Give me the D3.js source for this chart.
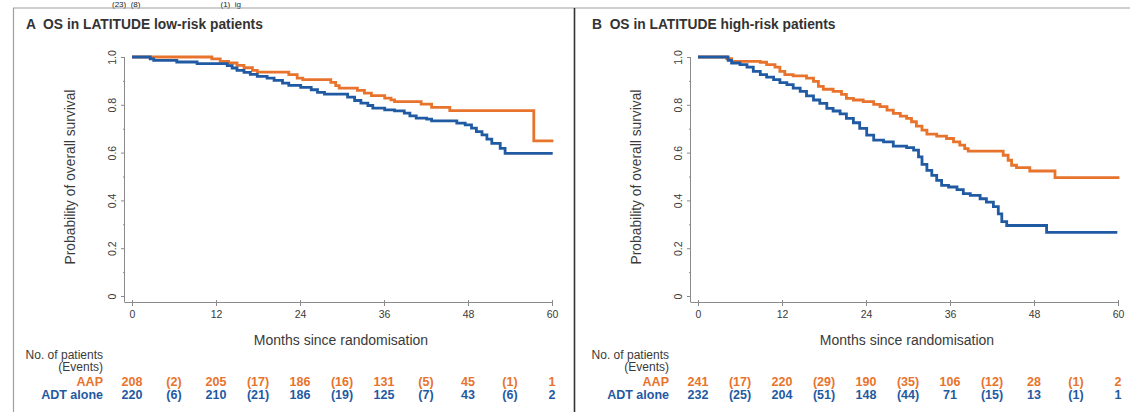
<!DOCTYPE html>
<html>
<head>
<meta charset="utf-8">
<script src="https://cdn.jsdelivr.net/npm/d3@7/dist/d3.min.js"></script>
<style>
  html, body { margin: 0; padding: 0; background: #fff; }
  svg { display: block; font-family: "Liberation Sans", Arial, sans-serif; }
</style>
</head>
<body>
<svg id="chart" width="1130" height="412"></svg>
<script>
// Axis ticks
const monthTicks = [0, 12, 24, 36, 48, 60];
const survivalTicks = [0, 0.2, 0.4, 0.6, 0.8, 1.0];
const survivalMinorTicks = [0.1, 0.3, 0.5, 0.7, 0.9];
const riskMonths = [0, 12, 24, 36, 48, 60];
const eventMonths = [6, 18, 30, 42, 54];

// Kaplan-Meier step points [month, survival] — low-risk patients
const lowRiskAAP = [
  [0, 1.0], [11.4, 0.992], [12.6, 0.982], [13.8, 0.975], [15.0, 0.965], [16.0, 0.955],
  [17.2, 0.944], [17.9, 0.937], [22.4, 0.926], [23.6, 0.912], [24.4, 0.905], [28.4, 0.894],
  [29.1, 0.88], [29.6, 0.87], [32.2, 0.86], [33.2, 0.849], [34.2, 0.838], [36.1, 0.828],
  [37.0, 0.821], [37.5, 0.813], [41.3, 0.803], [42.8, 0.789], [45.4, 0.776], [57.4, 0.649],
  [60.2, 0.649]
];
const lowRiskADT = [
  [0, 1.0], [2.6, 0.992], [3.1, 0.986], [6.4, 0.979], [9.3, 0.972], [13.6, 0.964],
  [14.3, 0.954], [15.0, 0.944], [16.0, 0.936], [16.9, 0.927], [17.9, 0.919], [19.3, 0.912],
  [20.3, 0.902], [21.5, 0.891], [22.4, 0.881], [24.1, 0.873], [25.6, 0.863], [26.5, 0.852],
  [27.5, 0.845], [30.8, 0.832], [31.8, 0.818], [32.7, 0.807], [33.7, 0.797], [34.4, 0.786],
  [36.1, 0.779], [37.5, 0.775], [38.9, 0.765], [39.7, 0.754], [40.6, 0.744], [42.1, 0.74],
  [42.8, 0.733], [46.4, 0.723], [47.6, 0.716], [48.5, 0.702], [49.2, 0.688], [50.0, 0.674],
  [50.7, 0.656], [51.4, 0.639], [52.6, 0.618], [53.3, 0.597], [60.1, 0.597]
];

// Kaplan-Meier step points [month, survival] — high-risk patients
const highRiskAAP = [
  [0, 1.0], [4.1, 0.993], [4.8, 0.982], [8.9, 0.978], [9.8, 0.968], [11.0, 0.958],
  [11.7, 0.94], [12.4, 0.926], [13.6, 0.921], [15.5, 0.912], [16.5, 0.898], [17.2, 0.877],
  [17.9, 0.865], [19.3, 0.856], [20.5, 0.844], [21.2, 0.827], [22.2, 0.82], [23.6, 0.813],
  [25.1, 0.802], [26.0, 0.792], [27.0, 0.778], [27.9, 0.764], [28.9, 0.753], [29.8, 0.743],
  [30.5, 0.729], [31.2, 0.711], [32.0, 0.694], [32.7, 0.677], [34.1, 0.669], [35.5, 0.659],
  [36.5, 0.645], [37.4, 0.631], [38.1, 0.617], [38.6, 0.606], [43.6, 0.589], [44.3, 0.568],
  [44.8, 0.547], [45.5, 0.537], [47.4, 0.523], [51.0, 0.495], [60.2, 0.495]
];
const highRiskADT = [
  [0, 1.0], [4.3, 0.986], [4.8, 0.975], [6.0, 0.968], [7.0, 0.958], [7.9, 0.94],
  [8.9, 0.926], [9.8, 0.916], [10.8, 0.905], [11.7, 0.893], [12.7, 0.884], [13.6, 0.87],
  [14.6, 0.856], [15.5, 0.837], [16.5, 0.82], [17.4, 0.806], [18.4, 0.785], [19.3, 0.774],
  [20.3, 0.762], [21.2, 0.743], [22.2, 0.725], [23.1, 0.701], [24.1, 0.673], [25.1, 0.652],
  [26.5, 0.645], [27.9, 0.627], [29.8, 0.621], [30.8, 0.61], [31.5, 0.582], [32.0, 0.551],
  [32.7, 0.526], [33.4, 0.505], [34.1, 0.484], [34.8, 0.463], [35.8, 0.456], [37.0, 0.445],
  [37.9, 0.428], [38.9, 0.421], [40.3, 0.407], [41.2, 0.393], [42.2, 0.374], [42.9, 0.344],
  [43.4, 0.311], [44.1, 0.295], [49.8, 0.266], [59.9, 0.266]
];

// Numbers at risk and events per interval
const lowRiskAtRiskAAP = [208, 205, 186, 131, 45, 1];
const lowRiskEventsAAP = [2, 17, 16, 5, 1];
const lowRiskAtRiskADT = [220, 210, 186, 125, 43, 2];
const lowRiskEventsADT = [6, 21, 19, 7, 6];
const highRiskAtRiskAAP = [241, 220, 190, 106, 28, 2];
const highRiskEventsAAP = [17, 29, 35, 12, 1];
const highRiskAtRiskADT = [232, 204, 148, 71, 13, 1];
const highRiskEventsADT = [25, 51, 44, 15, 1];

const panelTitles = ["A  OS in LATITUDE low-risk patients", "B  OS in LATITUDE high-risk patients"];
const groupNames = ["AAP", "ADT alone"];

const ORANGE = "#e8732c";
const BLUE = "#1f5aa2";
const AXIS = "#8a8a8a";
const TEXT = "#3a3a3a";

const svg = d3.select("#chart");

// Trailing line of the preceding caption text
svg.append("text")
  .attr("x", 112).attr("y", 6.5)
  .attr("font-size", 8).attr("fill", "#222")
  .attr("xml:space", "preserve")
  .text("(23)  (8)                                    (1)  ig");

// Frame lines
svg.append("line").attr("x1", 13).attr("x2", 1130).attr("y1", 8).attr("y2", 8)
  .attr("stroke", "#a0a0a0").attr("stroke-width", 1.2);
svg.append("line").attr("x1", 13.5).attr("x2", 13.5).attr("y1", 8).attr("y2", 412)
  .attr("stroke", "#a0a0a0").attr("stroke-width", 1.2);
svg.append("line").attr("x1", 574.5).attr("x2", 574.5).attr("y1", 8).attr("y2", 412)
  .attr("stroke", "#333").attr("stroke-width", 1.6);

const panels = [
  { dx: 0, title: panelTitles[0], aap: lowRiskAAP, adt: lowRiskADT,
    riskAAP: lowRiskAtRiskAAP, evAAP: lowRiskEventsAAP, riskADT: lowRiskAtRiskADT, evADT: lowRiskEventsADT },
  { dx: 566, title: panelTitles[1], aap: highRiskAAP, adt: highRiskADT,
    riskAAP: highRiskAtRiskAAP, evAAP: highRiskEventsAAP, riskADT: highRiskAtRiskADT, evADT: highRiskEventsADT }
];

panels.forEach(p => {
  const g = svg.append("g").attr("transform", `translate(${p.dx},0)`);

  const x = d3.scaleLinear().domain([0, 60]).range([132, 552]);
  const y = d3.scaleLinear().domain([0, 1]).range([296, 57]);
  const yAxisX = 125;
  const xAxisY = 302;

  // Panel title
  g.append("text")
    .attr("x", 26).attr("y", 29)
    .attr("font-size", 13.8).attr("font-weight", "bold").attr("fill", "#333")
    .attr("xml:space", "preserve")
    .text(p.title);

  // Y axis: the spine runs down to meet the month axis
  const yAxis = g.append("g").attr("transform", `translate(${yAxisX},0)`)
    .call(d3.axisLeft(y).tickValues(survivalTicks).tickSize(4).tickFormat(d => d === 0 ? "0" : d3.format(".1f")(d)));
  yAxis.select(".domain").attr("stroke", AXIS).attr("d", `M-0.5,${xAxisY}V${y(1)}`);
  yAxis.selectAll(".tick line").attr("stroke", AXIS);
  yAxis.selectAll(".tick text")
    .attr("fill", TEXT).attr("font-size", 10.5).attr("font-family", "Liberation Sans, Arial, sans-serif")
    .attr("transform", "rotate(-90)")
    .attr("text-anchor", "middle")
    .attr("x", 0).attr("y", -9).attr("dy", 0);
  const yMinor = g.append("g").attr("transform", `translate(${yAxisX},0)`)
    .call(d3.axisLeft(y).tickValues(survivalMinorTicks).tickSize(2).tickFormat(""));
  yMinor.select(".domain").remove();
  yMinor.selectAll(".tick line").attr("stroke", AXIS);

  g.append("text")
    .attr("transform", `translate(75,177) rotate(-90)`)
    .attr("text-anchor", "middle")
    .attr("font-size", 13.8).attr("fill", TEXT)
    .text("Probability of overall survival");

  // X axis
  const xAxis = g.append("g").attr("transform", `translate(0,${xAxisY})`)
    .call(d3.axisBottom(x).tickValues(monthTicks).tickSize(4).tickSizeOuter(0));
  xAxis.select(".domain").attr("stroke", AXIS).attr("d", `M${yAxisX - 0.5},0.5H${x(60)}`);
  xAxis.selectAll(".tick line").attr("stroke", AXIS).attr("y1", -2);
  xAxis.selectAll(".tick text")
    .attr("fill", TEXT).attr("font-size", 10.5).attr("font-family", "Liberation Sans, Arial, sans-serif")
    .attr("y", 9);

  g.append("text")
    .attr("x", 341).attr("y", 345)
    .attr("text-anchor", "middle")
    .attr("font-size", 14).attr("fill", TEXT)
    .text("Months since randomisation");

  // Survival curves
  const line = d3.line()
    .x(d => x(d[0]))
    .y(d => y(d[1]))
    .curve(d3.curveStepAfter);

  g.append("path").datum(p.aap)
    .attr("d", line).attr("fill", "none")
    .attr("stroke", ORANGE).attr("stroke-width", 2.8);
  g.append("path").datum(p.adt)
    .attr("d", line).attr("fill", "none")
    .attr("stroke", BLUE).attr("stroke-width", 2.8);

  // Numbers-at-risk table
  const labelX = 103;
  g.append("text").attr("x", labelX).attr("y", 359)
    .attr("text-anchor", "end").attr("font-size", 12).attr("fill", TEXT)
    .text("No. of patients");
  g.append("text").attr("x", labelX).attr("y", 371)
    .attr("text-anchor", "end").attr("font-size", 12).attr("fill", TEXT)
    .text("(Events)");

  const rows = [
    { name: groupNames[0], color: ORANGE, risk: p.riskAAP, ev: p.evAAP, yy: 385.5 },
    { name: groupNames[1], color: BLUE, risk: p.riskADT, ev: p.evADT, yy: 398.5 }
  ];
  rows.forEach(r => {
    g.append("text").attr("x", labelX).attr("y", r.yy)
      .attr("text-anchor", "end").attr("font-size", 12.5).attr("font-weight", "bold")
      .attr("fill", r.color).text(r.name);
    g.selectAll(null).data(r.risk).enter().append("text")
      .attr("x", (d, i) => x(riskMonths[i])).attr("y", r.yy)
      .attr("text-anchor", "middle").attr("font-size", 12.5).attr("font-weight", "bold")
      .attr("fill", r.color).text(d => d);
    g.selectAll(null).data(r.ev).enter().append("text")
      .attr("x", (d, i) => x(eventMonths[i])).attr("y", r.yy)
      .attr("text-anchor", "middle").attr("font-size", 12.5).attr("font-weight", "bold")
      .attr("fill", r.color).text(d => `(${d})`);
  });
});
</script>
</body>
</html>
